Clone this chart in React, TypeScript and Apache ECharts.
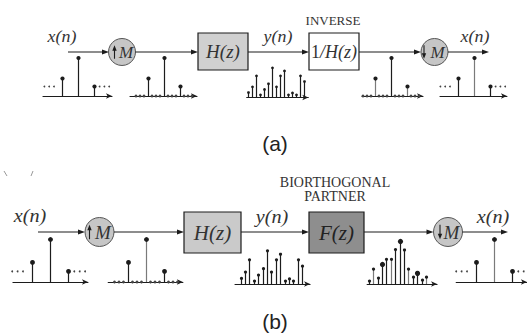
import React, { useEffect, useRef } from 'react';
import * as echarts from 'echarts';

// ---- data ----
const M = 4;
const sparseIdx = [-1, 0, 1];
const xValues = [0.46, 1.0, 0.25];
const upRange = [-7, 7];
const yValues = [0.13, 0.28, 0.57, 0.07, 0.21, 0.36, 0.78, 0.28, 0.57, 0.7, 0.07, 0.12, 0.07, 0.57, 0.42];
const fValues = [0.07, 0.35, 0.14, 0.46, 0.58, 0.58, 0.81, 1.0, 0.8, 0.35, 0.16, 0.25, 0.09, 0.16];
const fCenter = 7; // index in fValues aligned with x(0)
const ellipsisLeft = [-2.1, -1.8, -1.5];
const ellipsisRight = [1.35, 1.65, 1.95];
const ellipsisLevel = 0.25;

// point: [x, y, r, kind] kind 0 dark stem, 1 gray stem, 2 dot only
function sparsePts(r: number, gray: number[]) {
  const pts: number[][] = [];
  ellipsisLeft.concat(ellipsisRight).forEach((e) => pts.push([e, ellipsisLevel, 0.9, 2]));
  sparseIdx.forEach((n, i) => pts.push([n, xValues[i], r, gray.includes(n) ? 1 : 0]));
  return pts;
}
function upPts(r: number, gray: number[]) {
  const pts: number[][] = [];
  for (let k = upRange[0]; k <= upRange[1]; k++) {
    const j = sparseIdx.findIndex((n) => n * M === k);
    if (j >= 0) pts.push([k, xValues[j], r, gray.includes(sparseIdx[j]) ? 1 : 0]);
    else pts.push([k, 0, 1.4, 2]);
  }
  return pts;
}
function seqPts(vals: number[], r: number) {
  return vals.map((v, i) => [i, v, r, 0]);
}
function fPts(rSmall: number, rBig: number) {
  return fValues.map((v, i) => {
    const big = (i - fCenter) % M === 0;
    return [i, v, big ? rBig : rSmall, big ? 0 : i % 2 === 0 ? 0 : 1];
  });
}

type Plot = { x0: number; sp: number; ay: number; unit: number; xMin: number; xMax: number; pts: number[][] };

const plots: Plot[] = [
  { x0: 78, sp: 16, ay: 96, unit: 38, xMin: -2.19, xMax: 2.125, pts: sparsePts(2.1, []) },
  { x0: 164, sp: 4, ay: 96, unit: 38, xMin: -8.5, xMax: 8.25, pts: upPts(2.1, []) },
  { x0: 248.3, sp: 4, ay: 97.5, unit: 38, xMin: -0.4, xMax: 15, pts: seqPts(yValues, 1.4) },
  { x0: 391, sp: 4, ay: 96, unit: 38, xMin: -7.25, xMax: 8, pts: upPts(2.1, [-1, 1]) },
  { x0: 474, sp: 16, ay: 96, unit: 38, xMin: -2.125, xMax: 2.06, pts: sparsePts(2.1, [0]) },
  { x0: 50, sp: 18, ay: 282, unit: 42.5, xMin: -2.06, xMax: 2.11, pts: sparsePts(2.4, []) },
  { x0: 146, sp: 4.5, ay: 282, unit: 42.5, xMin: -8.4, xMax: 8.2, pts: upPts(2.4, [0]) },
  { x0: 241, sp: 4.4, ay: 284, unit: 42.5, xMin: -1.36, xMax: 15.7, pts: seqPts(yValues, 1.6) },
  { x0: 369.3, sp: 4.4, ay: 284, unit: 42.5, xMin: -0.5, xMax: 15.4, pts: fPts(1.6, 2.6) },
  { x0: 494, sp: 18, ay: 282, unit: 42.5, xMin: -2.1, xMax: 1.83, pts: sparsePts(2.4, [0]) },
];

const INK = '#1c1c1c';

function arrowLine(x1: number, x2: number, y: number): any[] {
  return [
    { type: 'line', shape: { x1, y1: y, x2: x2 - 4, y2: y }, style: { stroke: INK, lineWidth: 1.2 } },
    { type: 'polygon', shape: { points: [[x2, y], [x2 - 7, y - 2.6], [x2 - 7, y + 2.6]] }, style: { fill: INK } },
  ];
}
function mathText(x: number, y: number, text: string, size: number, scaleX = 1, fill = '#333'): any {
  return {
    type: 'text', x, y, scaleX,
    style: { text, font: `italic ${size}px "Liberation Serif"`, fill, textAlign: 'center', textVerticalAlign: 'middle' },
  };
}
function capsText(x: number, y: number, text: string, size: number): any {
  return {
    type: 'text', x, y,
    style: { text, font: `${size}px "Liberation Serif"`, fill: '#333', textAlign: 'center', textVerticalAlign: 'middle' },
  };
}
function sampler(cx: number, cy: number, r: number, up: boolean, ax: number, mx: number, size: number): any[] {
  const h = r * 0.5;
  const tip = up ? cy - h : cy + h;
  const tail = up ? cy + h : cy - h;
  const d = up ? 1 : -1;
  return [
    { type: 'circle', shape: { cx, cy, r }, style: { fill: '#c6c6c6', stroke: '#555', lineWidth: 1 } },
    { type: 'line', shape: { x1: ax, y1: tail, x2: ax, y2: tip + d * 3 }, style: { stroke: INK, lineWidth: 1.1 } },
    { type: 'polygon', shape: { points: [[ax, tip], [ax - 2.2, tip + d * 5.5], [ax + 2.2, tip + d * 5.5]] }, style: { fill: INK } },
    mathText(mx, cy + 0.5, 'M', size),
  ];
}
function box(x: number, y: number, w: number, h: number, fill: string): any {
  return { type: 'rect', shape: { x, y, width: w, height: h }, style: { fill, stroke: INK, lineWidth: 1.2 } };
}

export default function App() {
  const ref = useRef<HTMLDivElement>(null);
  useEffect(() => {
    if (!ref.current) return;
    const chart = echarts.init(ref.current, null, { renderer: 'svg' });
    const grid = plots.map((p) => ({
      left: p.x0 + p.xMin * p.sp,
      width: (p.xMax - p.xMin) * p.sp,
      top: p.ay - 1.2 * p.unit,
      height: 1.2 * p.unit,
      containLabel: false,
    }));
    const xAxis = plots.map((p, i) => ({
      type: 'value', gridIndex: i, min: p.xMin, max: p.xMax,
      axisLine: { show: true, onZero: false, symbol: ['none', 'arrow'], symbolSize: [4, 6], lineStyle: { color: INK, width: 1.1 } },
      axisTick: { show: false }, axisLabel: { show: false }, splitLine: { show: false },
    }));
    const yAxis = plots.map((_, i) => ({ type: 'value', gridIndex: i, min: 0, max: 1.2, show: false }));
    const series = plots.map((p, i) => ({
      type: 'custom', xAxisIndex: i, yAxisIndex: i, data: p.pts, silent: true,
      renderItem: (_params: any, api: any) => {
        const x = api.value(0), y = api.value(1), r = api.value(2), kind = api.value(3);
        const p0 = api.coord([x, 0]);
        const p1 = api.coord([x, y]);
        const sx = Math.round(p0[0] - 0.5) + 0.5;
        const children: any[] = [];
        if (kind !== 2) {
          children.push({ type: 'line', shape: { x1: sx, y1: p0[1], x2: sx, y2: p1[1] }, style: { stroke: kind === 1 ? '#7a7a7a' : INK, lineWidth: 1.2 } });
        }
        children.push({ type: 'circle', shape: { cx: kind === 2 ? p1[0] : sx, cy: p1[1], r }, style: { fill: kind === 2 ? '#444' : INK } });
        return { type: 'group', children };
      },
    }));

    const g: any[] = [];
    // panel (a)
    const ya = 52;
    g.push(...arrowLine(68, 109, ya));
    g.push(...sampler(122, ya, 13.5, true, 114.5, 126, 17));
    g.push(...arrowLine(135.5, 198, ya));
    g.push(box(198, 33, 50, 37, '#d0d0d0'));
    g.push(mathText(223, 51.5, 'H(z)', 19));
    g.push(...arrowLine(248, 309, ya));
    g.push(box(309, 33, 50, 37, '#ffffff'));
    g.push({
      type: 'text', x: 334, y: 51.5,
      style: {
        text: '{u|1}{i|/H(z)}', textAlign: 'center', textVerticalAlign: 'middle',
        rich: { u: { font: '18px "Liberation Serif"', fill: '#333' }, i: { font: 'italic 18px "Liberation Serif"', fill: '#333' } },
      },
    });
    g.push(capsText(333, 20, 'INVERSE', 13));
    g.push(...arrowLine(359, 421, ya));
    g.push(...sampler(434.5, ya, 13.5, false, 424, 437.5, 17));
    g.push(...arrowLine(448, 489, ya));
    g.push(mathText(62, 36.5, 'x(n)', 16, 1.12));
    g.push(mathText(278, 37, 'y(n)', 16, 1.12));
    g.push(mathText(475, 36.5, 'x(n)', 16, 1.12));
    g.push({ type: 'text', x: 275, y: 143, style: { text: '(a)', font: '21px "Liberation Sans"', fill: '#222', textAlign: 'center', textVerticalAlign: 'middle' } });

    // panel (b)
    const yb = 232;
    g.push({ type: 'line', shape: { x1: 4, y1: 171, x2: 7, y2: 176 }, style: { stroke: '#999', lineWidth: 1 } });
    g.push({ type: 'line', shape: { x1: 33, y1: 171, x2: 31, y2: 176 }, style: { stroke: '#999', lineWidth: 1 } });
    g.push(...arrowLine(38, 85, yb));
    g.push(...sampler(99.5, yb, 14.5, true, 89.5, 103, 19));
    g.push(...arrowLine(114, 184, yb));
    g.push(box(184, 212, 57, 41, '#cacaca'));
    g.push(mathText(212.5, 232.5, 'H(z)', 21));
    g.push(...arrowLine(241, 309, yb));
    g.push(box(309, 212, 55, 41, '#8e8e8e'));
    g.push(mathText(336.5, 232.5, 'F(z)', 21, 1, '#222'));
    g.push(capsText(335, 182, 'BIORTHOGONAL', 14));
    g.push(capsText(335, 196, 'PARTNER', 14));
    g.push(...arrowLine(364, 433.5, yb));
    g.push(...sampler(448, yb, 14.5, false, 440, 451.5, 19));
    g.push(...arrowLine(462.5, 508, yb));
    g.push(mathText(30, 216, 'x(n)', 18, 1.12));
    g.push(mathText(272, 216.5, 'y(n)', 18, 1.12));
    g.push(mathText(493, 216.5, 'x(n)', 18, 1.12));
    g.push({ type: 'text', x: 275, y: 321, style: { text: '(b)', font: '21px "Liberation Sans"', fill: '#222', textAlign: 'center', textVerticalAlign: 'middle' } });

    chart.setOption({
      animation: false,
      backgroundColor: '#ffffff',
      grid, xAxis, yAxis, series,
      graphic: { elements: g },
    });
    return () => chart.dispose();
  }, []);
  return <div ref={ref} style={{ position: 'fixed', left: 0, top: 0, width: 527, height: 335, background: '#fff' }} />;
}
